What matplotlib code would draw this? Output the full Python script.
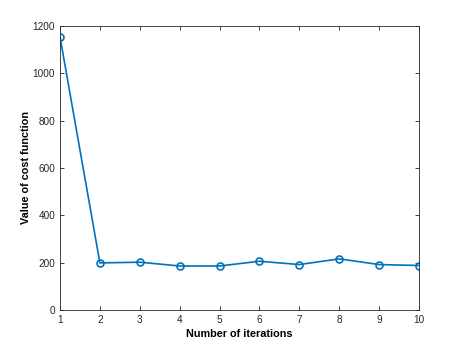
import matplotlib
matplotlib.use("Agg")
import matplotlib.pyplot as plt

iterations = [1, 2, 3, 4, 5, 6, 7, 8, 9, 10]
cost = [1154, 199, 202, 186, 186, 206, 192, 216, 192, 188]
xticks = [1, 2, 3, 4, 5, 6, 7, 8, 9, 10]
yticks = [0, 200, 400, 600, 800, 1000, 1200]

plt.rcParams['font.family'] = ['Liberation Sans', 'DejaVu Sans']

fig = plt.figure(figsize=(4.63, 3.48), dpi=100)
ax = fig.add_axes([60/463, 38/348, 359/463, 284/348])
ax.plot(iterations, cost, color='#0072BD', linewidth=1.2, marker='o',
        markersize=5, markerfacecolor='none', markeredgewidth=1.2)
ax.set_xlim(1, 10)
ax.set_ylim(0, 1200)
ax.set_xticks(xticks)
ax.set_yticks(yticks)
ax.tick_params(direction='in', length=3, labelsize=7.2, colors='#262626',
               top=True, right=True, labeltop=False, labelright=False, width=0.6)
for s in ax.spines.values():
    s.set_color('#262626')
    s.set_linewidth(0.6)
ax.set_xlabel('Number of iterations', fontsize=7.8, fontweight='bold', labelpad=3)
ax.set_ylabel('Value of cost function', fontsize=7.8, fontweight='bold', labelpad=1)
fig.savefig('out.png', dpi=100)
